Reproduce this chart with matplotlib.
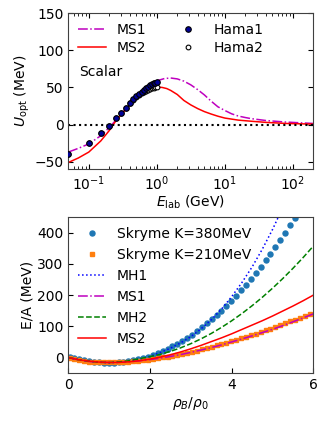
import matplotlib
matplotlib.use("Agg")
import matplotlib.pyplot as plt

plt.rcParams['font.family'] = ['DejaVu Sans']
plt.rcParams['font.size'] = 10
plt.rcParams['mathtext.fontset'] = 'dejavusans'

# ---------------- top panel data ----------------
E_ms1 = [0.05, 0.07, 0.1, 0.15, 0.2, 0.25, 0.3, 0.4, 0.5, 0.6, 0.7, 0.8, 1.0, 1.3,
         1.6, 2.0, 2.5, 3.16, 4.0, 5.0, 6.3, 7.9, 10, 12.6, 15.8, 20, 24.5, 40,
         76, 200]
U_ms1 = [-37, -32, -26, -15, -4, 6, 14.5, 27, 36.5, 43.5, 49, 53.5, 59, 62,
         62.7, 61.5, 58.5, 53.5, 47, 40, 31.5, 24, 19, 14.5, 11.5, 9.5, 8, 5.5,
         3.5, 1.5]
E_ms2 = [0.05, 0.07, 0.1, 0.15, 0.2, 0.25, 0.3, 0.4, 0.5, 0.6, 0.7, 0.8, 1.0, 1.2,
         1.4, 1.6, 2.0, 2.5, 3.16, 4.0, 5.0, 6.3, 7.9, 10, 15.8, 24.5, 40, 80, 200]
U_ms2 = [-51, -45, -37, -22, -8, 5, 13.5, 26, 34.5, 40.5, 45, 48, 50.5, 50,
         48.5, 46, 40.5, 32.5, 26.5, 21.5, 17.5, 14.2, 11.3, 8.8, 6, 4.5, 3,
         1.5, 0.6]
E_hama = [0.05, 0.1, 0.15, 0.2, 0.25, 0.3, 0.35, 0.4, 0.45, 0.5, 0.55, 0.6, 0.65,
          0.7, 0.75, 0.8, 0.85, 0.9, 0.95, 1.0]
U_hama1 = [-39, -25, -12, -1.5, 8.5, 16, 23, 29, 34, 38, 41.5, 44.5, 47, 49, 51,
           53, 54.5, 55.5, 56.5, 57.5]
U_hama2 = [-39, -25, -12, -1.5, 8.5, 16, 23, 28.5, 33, 36.5, 39.5, 42, 44, 45.5,
           47, 48, 49, 49.5, 50, 50.5]

# ---------------- bottom panel data ----------------
rho_sk = [0.03, 0.15, 0.27, 0.39, 0.51, 0.63, 0.75, 0.87, 0.99, 1.11, 1.23, 1.35,
          1.47, 1.59, 1.71, 1.83, 1.95, 2.07, 2.19, 2.31, 2.43, 2.55, 2.67, 2.79,
          2.91, 3.03, 3.15, 3.27, 3.39, 3.51, 3.63, 3.75, 3.87, 3.99, 4.11, 4.23,
          4.35, 4.47, 4.59, 4.71, 4.83, 4.95, 5.07, 5.19, 5.31, 5.43, 5.55, 5.67,
          5.79, 5.91]
ea_k380 = [0.3, -2.6, -5.8, -8.9, -11.5, -13.6, -15.2, -16.1, -16.6, -16.4, -15.5,
           -14.1, -12.0, -9.3, -6.0, -2.0, 2.7, 7.9, 13.9, 20.5, 27.7, 35.6, 44.1,
           53.3, 63.2, 73.7, 84.9, 96.7, 109.3, 122.4, 136.3, 150.8, 165.9, 181.7,
           198.2, 215.4, 233.2, 251.7, 270.9, 290.7, 311.2, 332.4, 354.2, 376.7,
           399.9, 423.7, 448.2, 473.0, 498.0, 524.0]
ea_k210 = [-0.9, -5.2, -8.5, -11.0, -12.9, -14.2, -15.1, -15.7, -15.8, -15.6, -15.1,
           -14.4, -13.3, -12.1, -10.5, -8.8, -6.9, -4.7, -2.3, 0.2, 2.9, 5.8, 8.9,
           12.1, 15.5, 19.0, 22.6, 26.4, 30.4, 34.5, 38.7, 43.1, 47.5, 52.1, 56.8,
           61.6, 66.6, 71.7, 76.8, 82.1, 87.5, 93.0, 98.5, 104.2, 110.0, 115.9,
           121.9, 127.9, 134.1, 140.3]
rho_ln = [0, 0.25, 0.5, 0.75, 1.0, 1.25, 1.5, 1.75, 2.0, 2.25, 2.5, 2.75, 3.0, 3.25,
          3.5, 3.75, 4.0, 4.25, 4.5, 4.75, 5.0, 5.25, 5.5, 5.75, 6.0]
ea_mh1 = [0, -6.5, -11.3, -15, -16.5, -15.3, -11.5, -5, 4, 16, 30, 47, 67, 92, 121,
          155, 195, 240, 290, 347, 410, 480, 550, 620, 700]
ea_ms1 = [0, -7.5, -12.5, -15.2, -16, -15.3, -13.5, -10.5, -6.5, -2, 3.5, 9.5, 16.5,
          24, 32, 40.5, 50, 59.5, 69.5, 80, 90.5, 102, 114.5, 127, 140]
ea_mh2 = [0, -7, -11.5, -15, -16, -14, -10, -3.5, 3, 10.3, 19.7, 31.1, 44.5, 59.9,
          77.2, 96.5, 117.7, 140.9, 166, 193, 222, 252.9, 285.7, 320.4, 357]
ea_ms2 = [0, -7, -11.5, -14.5, -15.8, -15.5, -13.5, -10, -5, 1.5, 9, 18, 28, 39, 51,
          63, 76, 90, 104, 118, 133, 149, 165, 182, 200]

fig = plt.figure(figsize=(3.27, 4.25), dpi=100)
ax1 = fig.add_axes([0.209, 0.602, 0.749, 0.367])
ax2 = fig.add_axes([0.209, 0.122, 0.749, 0.367])

# ---- top ----
ax1.plot(E_ms1, U_ms1, color='m', ls='-.', lw=1.1, label='MS1')
ax1.plot(E_ms2, U_ms2, color='red', ls='-', lw=1.1, label='MS2')
ax1.plot(E_hama, U_hama2, 'o', ms=3.4, mfc='white', mec='black', mew=0.8,
         label='Hama2', zorder=3)
ax1.plot(E_hama, U_hama1, 'o', ms=4.0, mfc='#000099', mec='black', mew=0.8,
         label='Hama1', zorder=4)
ax1.axhline(0, color='black', ls=':', lw=1.5)
ax1.set_xscale('log')
ax1.set_xlim(0.05, 200)
ax1.set_ylim(-60, 150)
ax1.set_yticks([-50, 0, 50, 100, 150])
ax1.set_xlabel(r'$E_{\rm lab}$ (GeV)', labelpad=1)
ax1.set_ylabel(r'$U_{\rm opt}$ (MeV)', labelpad=2)
ax1.text(0.044, 0.626, 'Scalar', transform=ax1.transAxes, va='center', ha='left')
h, l = ax1.get_legend_handles_labels()
order = [0, 1, 3, 2]
ax1.legend([h[i] for i in order], [l[i] for i in order], ncol=2, frameon=False,
           loc='upper left', handlelength=2.0, columnspacing=2.0,
           borderaxespad=0.3, labelspacing=0.3)
ax1.tick_params(which='both', direction='in', top=True, right=True)

# ---- bottom ----
ax2.plot(rho_sk, ea_k380, 'o', ms=3.6, color='tab:blue', label='Skryme K=380MeV')
ax2.plot(rho_sk, ea_k210, 's', ms=2.5, color='tab:orange', label='Skryme K=210MeV')
ax2.plot(rho_ln, ea_mh1, color='blue', ls=':', lw=1.1, label='MH1')
ax2.plot(rho_ln, ea_ms1, color='m', ls='-.', lw=1.1, label='MS1')
ax2.plot(rho_ln, ea_mh2, color='green', ls='--', lw=1.1, label='MH2')
ax2.plot(rho_ln, ea_ms2, color='red', ls='-', lw=1.1, label='MS2')
ax2.set_xlim(0, 6)
ax2.set_ylim(-50, 450)
ax2.set_yticks([0, 100, 200, 300, 400])
ax2.set_xlabel(r'$\rho_B/\rho_0$', labelpad=2)
ax2.set_ylabel('E/A (MeV)', labelpad=2)
ax2.legend(frameon=False, loc='upper left', numpoints=1, handlelength=2.0,
           borderaxespad=0.3, labelspacing=0.5)
ax2.tick_params(which='both', direction='in')

for ax in (ax1, ax2):
    for s in ax.spines.values():
        s.set_color('0.25')

fig.savefig('out.png', dpi=100)
